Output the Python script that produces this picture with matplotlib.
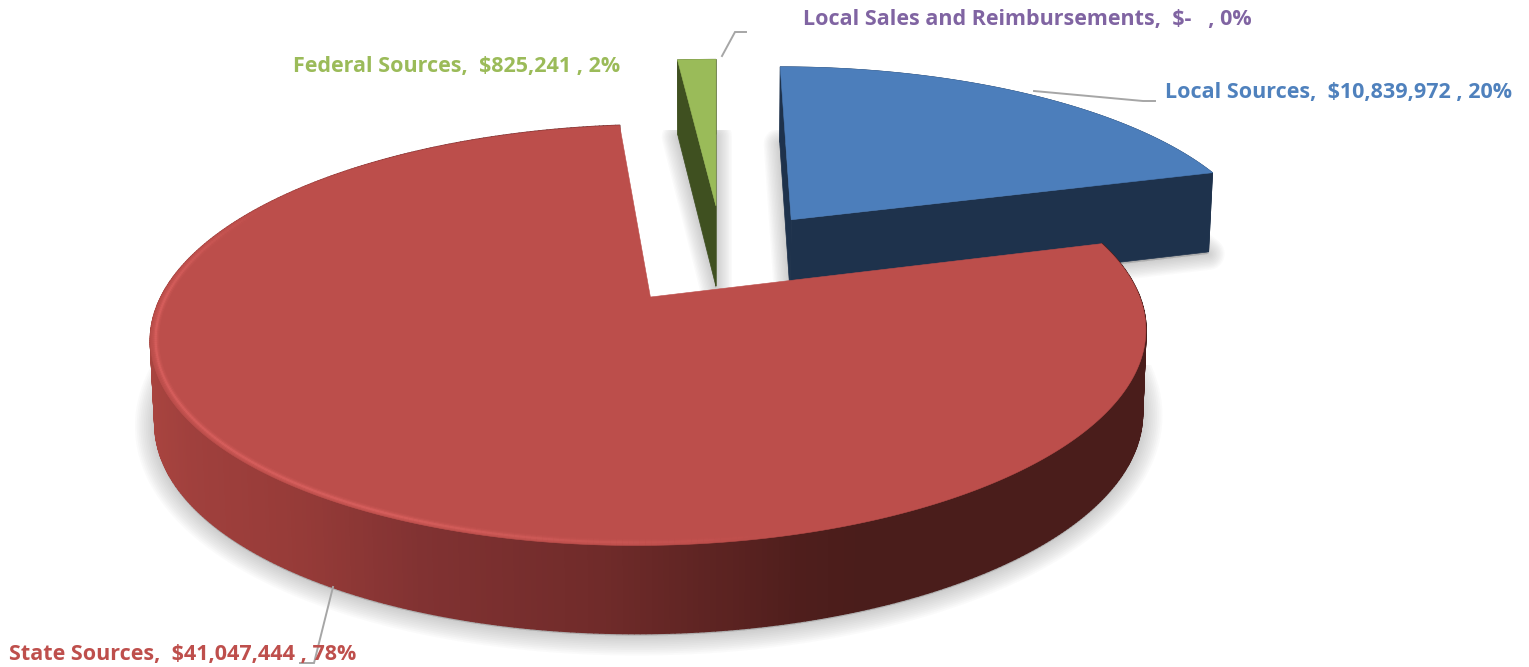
import numpy as np
import matplotlib
matplotlib.use("Agg")
import matplotlib.pyplot as plt
from matplotlib.patches import Rectangle
from matplotlib.collections import PolyCollection, LineCollection
from matplotlib.colors import to_rgb

# ---- data ----
categories = ["Local Sales and Reimbursements", "Local Sources", "State Sources", "Federal Sources"]
values = [0, 10839972, 41047444, 825241]
amount_labels = ["$-  ", "$10,839,972", "$41,047,444", "$825,241"]
percent_labels = ["0%", "20%", "78%", "2%"]

# ---- style ----
top_colors = {"Local Sources": "#4C7EBB", "State Sources": "#BC4E4B", "Federal Sources": "#9ABB59"}
wall_colors = {"Local Sources": "#1E324C", "State Sources": "#4A1D1B", "Federal Sources": "#3F5020"}
text_colors = ["#8064A2", "#4F81BD", "#BE4F4C", "#9BBB59"]
explode = {"Local Sources": 0.27, "State Sources": 0.235, "Federal Sources": 0.295}
explode_turn = {"Local Sources": 0.0, "State Sources": 0.0, "Federal Sources": 2.8}
radius_uv = {"Local Sources": (1.0, 1.02), "State Sources": (0.985, 1.005), "Federal Sources": (1.0, 1.0)}
label_pos = [(803, 18), (1165, 91), (9, 653), (293, 65)]
leaders = [[(722, 56), (735, 32), (746, 32)],
           [(1034, 91), (1143, 101), (1155, 101)],
           [(333, 587), (314, 663), (300, 663)]]

# ---- projection of the pie plane to the page ----
VX, Y0, A, B, P = 716.0, 259.0, 480.0, 189.0, 0.174
START = 0.0


def project(U, V):
    s = 1.0 / (1.0 + P * V)
    return VX + A * U * s, Y0 - B * V * s


def drop(x, y, V):
    return VX + (x - VX) * 0.992, y + 81.8 - 5.2 * V


fig = plt.figure(figsize=(15.29, 6.67), dpi=100)
ax = fig.add_axes([0, 0, 1, 1])
ax.set_xlim(0, 1529)
ax.set_ylim(667, 0)
ax.axis("off")

total = sum(values)
angles = START + np.concatenate([[0], np.cumsum(values)]) / total * 360.0
geom = {}
for i, c in enumerate(categories):
    if values[i] > 0:
        t0, t1 = angles[i], angles[i + 1]
        mid = np.radians((t0 + t1) / 2 + explode_turn[c])
        U0, V0 = explode[c] * np.sin(mid), explode[c] * np.cos(mid)
        th = np.radians(np.linspace(t0, t1, max(8, int(abs(t1 - t0) * 2))))
        geom[c] = (U0, V0, th)


def rim_uv(c, th, k=1.0):
    U0, V0, _ = geom[c]
    ru, rv = radius_uv[c]
    return U0 + k * ru * np.sin(th), V0 + k * rv * np.cos(th)


def outline(c, dropped=False):
    U0, V0, th = geom[c]
    Ur, Vr = rim_uv(c, th)
    U = np.r_[U0, Ur]
    V = np.r_[V0, Vr]
    x, y = project(U, V)
    if dropped:
        x, y = drop(x, y, V)
    return x, y


def soft_shadow(c, clip_top, reach):
    x, y = outline(c, dropped=True)
    clip = Rectangle((0, clip_top), 1529, 667, transform=ax.transData)
    n = 11
    for k in range(n):
        w = reach * 2 * (1 - k / n)
        art, = ax.fill(x, y + 2, facecolor="#6E6E6E", edgecolor="#6E6E6E",
                       lw=w * 0.72, alpha=0.032, joinstyle="round", zorder=1)
        art.set_clip_path(clip)


soft_shadow("State Sources", 365, 20)
soft_shadow("Local Sources", 130, 16)
soft_shadow("Federal Sources", 130, 16)


def walls(c, zorder):
    U0, V0, th = geom[c]
    col = wall_colors[c]
    for t in (th[0], th[-1]):
        Ur, Vr = rim_uv(c, np.array([t]))
        U = np.r_[U0, Ur]
        V = np.r_[V0, Vr]
        x, y = project(U, V)
        bx, by = drop(x, y, V)
        ax.fill(np.r_[x, bx[::-1]], np.r_[y, by[::-1]], color=col, lw=0.5, zorder=zorder)
    U, V = rim_uv(c, th)
    x, y = project(U, V)
    bx, by = drop(x, y, V)
    ax.fill(np.r_[x, bx[::-1]], np.r_[y, by[::-1]], color=col, lw=0.5, zorder=zorder)


def top_face(c, zorder):
    x, y = outline(c)
    ax.fill(x, y, color=top_colors[c], lw=0.4, zorder=zorder)


walls("Federal Sources", 3)
top_face("Federal Sources", 4)
walls("Local Sources", 5)
top_face("Local Sources", 6)

# State slice: shaded outer wall in thin strips
c = "State Sources"
_, _, th = geom[c]
th_f = np.radians(np.linspace(np.degrees(th[0]), np.degrees(th[-1]), 500))
U, V = rim_uv(c, th_f)
x, y = project(U, V)
bx, by = drop(x, y, V)
stop_x = [150, 190, 300, 420, 600, 800, 860, 1150]
stop_c = ["#A8443F", "#A0403D", "#963B38", "#813232", "#702B2A", "#4F1E1C", "#4A1D1B", "#4A1D1B"]
stop_rgb = np.array([to_rgb(s) for s in stop_c])
polys, cols = [], []
for k in range(len(th_f) - 1):
    polys.append([(x[k], y[k]), (x[k + 1], y[k + 1]), (bx[k + 1], by[k + 1]), (bx[k], by[k])])
    xm = (x[k] + x[k + 1]) / 2
    cols.append([np.interp(xm, stop_x, stop_rgb[:, j]) for j in range(3)])
ax.add_collection(PolyCollection(polys, facecolors=cols, edgecolors=cols, linewidths=1.2, zorder=7))
top_face(c, 8)

# bevel highlight along the front rim of the state slice
deg = np.degrees(th_f)
fade = np.interp(deg, [165, 205, 270, 300], [0, 1, 1, 0])
Ur, Vr = rim_uv(c, th_f, 0.99)
xr, yr = project(Ur, Vr)
segs = np.stack([np.c_[xr[:-1], yr[:-1]], np.c_[xr[1:], yr[1:]]], axis=1)
rim = np.array(to_rgb("#E86A68"))
for width, strength in [(7.0, 0.12), (4.5, 0.2), (2.2, 0.4)]:
    rgba = np.c_[np.tile(rim, (len(segs), 1)), fade[:-1] * strength]
    ax.add_collection(LineCollection(segs, colors=rgba, linewidths=width * 0.72, zorder=9, capstyle="butt"))

# leader lines
for pts in leaders:
    px, py = zip(*pts)
    ax.plot(px, py, color="#A6A6A6", lw=1.4, zorder=10, solid_joinstyle="miter")

# data labels
for i, c in enumerate(categories):
    txt = f"{c},  {amount_labels[i]} , {percent_labels[i]}"
    ax.text(label_pos[i][0], label_pos[i][1] + 1.5, txt, color=text_colors[i], family="Open Sans",
            weight="bold", fontsize=15.5, ha="left", va="center", zorder=11)

fig.savefig("out.png", dpi=100, facecolor="white")
